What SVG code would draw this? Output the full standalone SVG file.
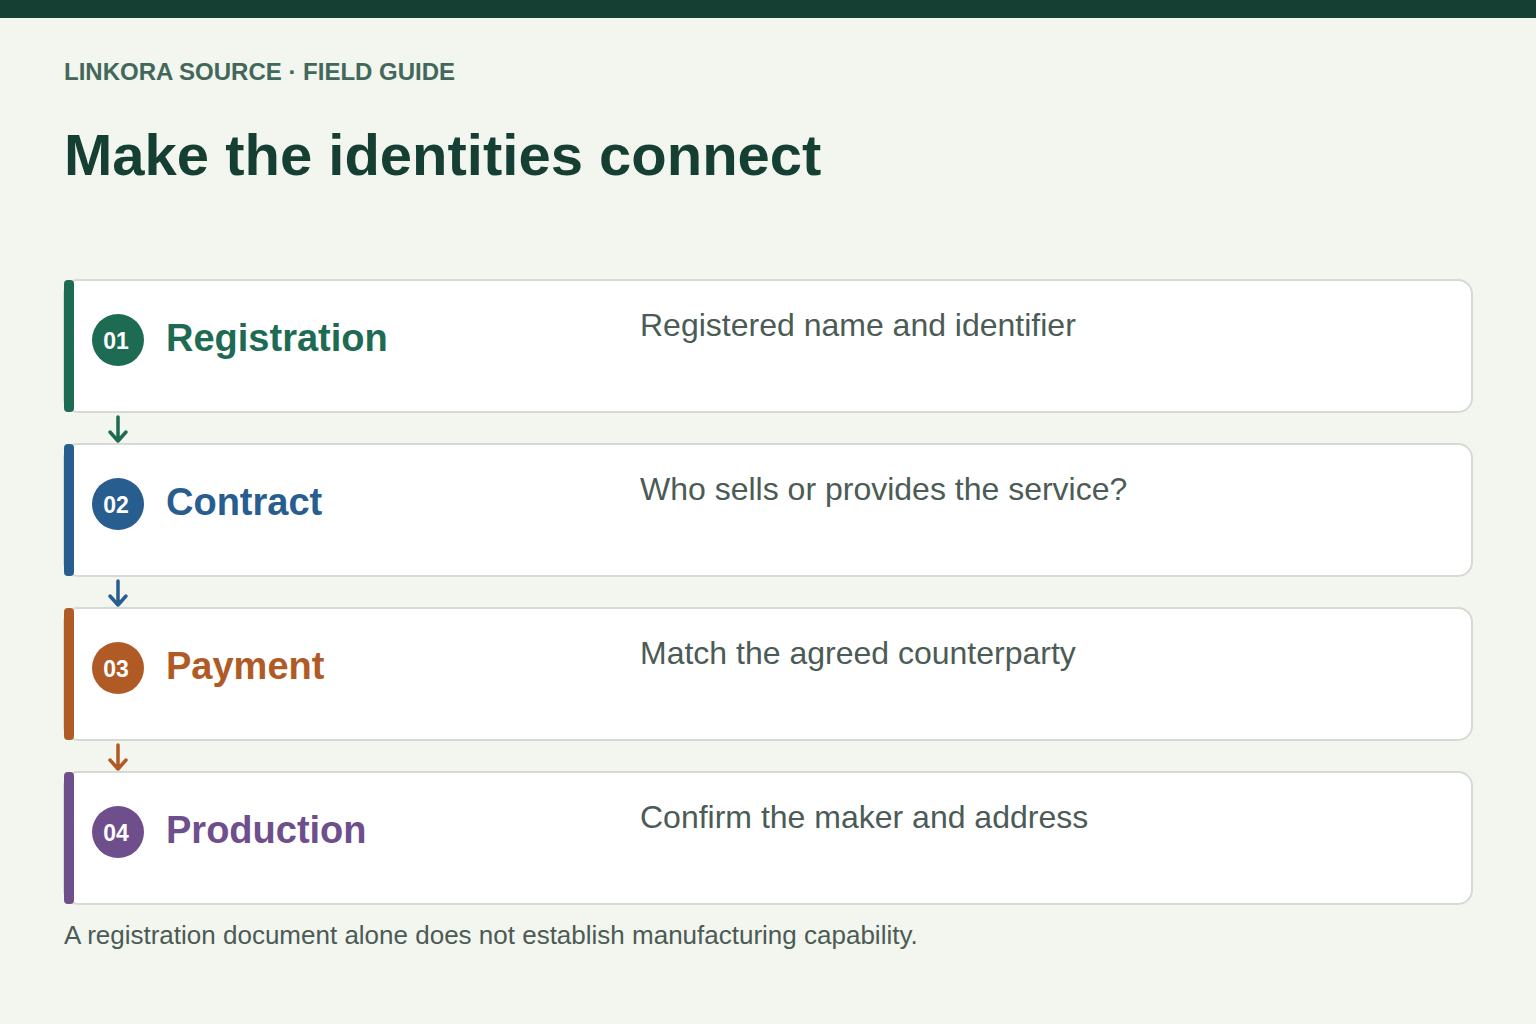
<svg xmlns="http://www.w3.org/2000/svg" width="1536" height="1024" viewBox="0 0 1536 1024">
<defs>
<style>
.bg{fill:#f3f5ef}
.card{fill:#ffffff;stroke:#d6d9d4;stroke-width:2}
.eyebrow{font-family:"Liberation Sans",Arial,sans-serif;font-weight:700;font-size:24px;fill:#42685a}
.title{font-family:"Liberation Sans",Arial,sans-serif;font-weight:700;font-size:58px;fill:#163f33}
.num{font-family:"Liberation Sans",Arial,sans-serif;font-weight:700;font-size:23px;fill:#ffffff;text-anchor:middle}
.name{font-family:"Liberation Sans",Arial,sans-serif;font-weight:700;font-size:38px}
.desc{font-family:"Liberation Sans",Arial,sans-serif;font-size:32px;fill:#4b5b55}
.foot{font-family:"Liberation Sans",Arial,sans-serif;font-size:26px;fill:#4b5b55}
.arr{fill:none;stroke-width:3.5;stroke-linecap:round;stroke-linejoin:round}
</style>
</defs>
<rect class="bg" x="0" y="0" width="1536" height="1024"/>
<rect x="0" y="0" width="1536" height="18" fill="#163f33"/>
<text class="eyebrow" x="64" y="80">LINKORA SOURCE · FIELD GUIDE</text>
<text class="title" x="64" y="175">Make the identities connect</text>

<g id="step-01">
<rect class="card" x="64" y="280" width="1408" height="132" rx="14"/>
<rect x="64" y="280" width="10" height="132" rx="4" fill="#1e6b54"/>
<circle cx="118" cy="340" r="26" fill="#1e6b54"/>
<text class="num" x="116" y="349">01</text>
<text class="name" x="166" y="351" fill="#1e6b54">Registration</text>
<text class="desc" x="640" y="336">Registered name and identifier</text>
</g>
<g id="step-02">
<rect class="card" x="64" y="444" width="1408" height="132" rx="14"/>
<rect x="64" y="444" width="10" height="132" rx="4" fill="#285d8f"/>
<circle cx="118" cy="504" r="26" fill="#285d8f"/>
<text class="num" x="116" y="513">02</text>
<text class="name" x="166" y="515" fill="#285d8f">Contract</text>
<text class="desc" x="640" y="500">Who sells or provides the service?</text>
</g>
<g id="step-03">
<rect class="card" x="64" y="608" width="1408" height="132" rx="14"/>
<rect x="64" y="608" width="10" height="132" rx="4" fill="#b05a25"/>
<circle cx="118" cy="668" r="26" fill="#b05a25"/>
<text class="num" x="116" y="677">03</text>
<text class="name" x="166" y="679" fill="#b05a25">Payment</text>
<text class="desc" x="640" y="664">Match the agreed counterparty</text>
</g>
<g id="step-04">
<rect class="card" x="64" y="772" width="1408" height="132" rx="14"/>
<rect x="64" y="772" width="10" height="132" rx="4" fill="#6e4f8c"/>
<circle cx="118" cy="832" r="26" fill="#6e4f8c"/>
<text class="num" x="116" y="841">04</text>
<text class="name" x="166" y="843" fill="#6e4f8c">Production</text>
<text class="desc" x="640" y="828">Confirm the maker and address</text>
</g>

<g id="connectors">
<path class="arr" stroke="#1e6b54" d="M118 417 V441 M110 432 L118 441 L126 432"/>
<path class="arr" stroke="#285d8f" d="M118 581 V605 M110 596 L118 605 L126 596"/>
<path class="arr" stroke="#b05a25" d="M118 745 V769 M110 760 L118 769 L126 760"/>
</g>

<text class="foot" x="64" y="944">A registration document alone does not establish manufacturing capability.</text>
</svg>
